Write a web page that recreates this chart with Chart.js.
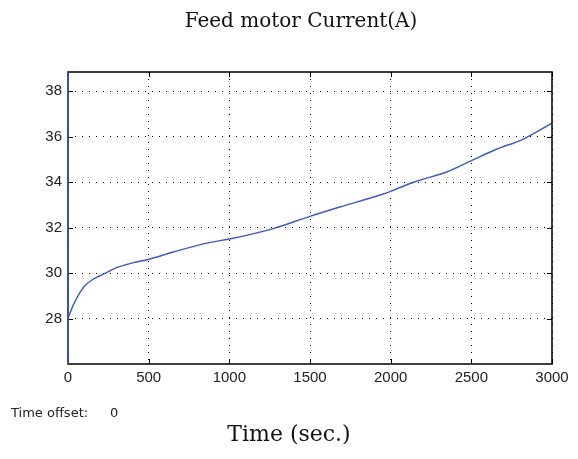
<!DOCTYPE html>
<html>
<head>
<meta charset="utf-8">
<script src="https://cdn.jsdelivr.net/npm/chart.js@4"></script>
<style>
  html, body { margin: 0; padding: 0; background: #fff; }
  #wrap { position: relative; width: 578px; height: 459px; }
  .lbl { position: absolute; white-space: nowrap; color: #111; }
  #title { left: 12px; width: 578px; top: 8px; text-align: center; font: 20px "DejaVu Serif", serif; }
  #xtitle { left: 0; width: 578px; top: 421px; text-align: center; font: 22px "DejaVu Serif", serif; }
  #offset { left: 11px; top: 405px; font: 13px "DejaVu Sans", sans-serif; color: #222; }
  #offset span { position: absolute; left: 99px; }
</style>
</head>
<body>
<div id="wrap">
  <canvas id="chart" width="578" height="459"></canvas>
  <div class="lbl" id="title">Feed motor Current(A)</div>
  <div class="lbl" id="offset">Time offset:<span>0</span></div>
  <div class="lbl" id="xtitle">Time (sec.)</div>
</div>
<script>
// values
const timeSec = [0, 31, 62, 104, 156, 218, 301, 405, 496, 653, 860, 1000, 1272, 1500, 1685, 1944, 2000, 2150, 2350, 2500, 2655, 2820, 3000]
const currentA = [28.0, 28.57, 29.0, 29.44, 29.73, 29.95, 30.24, 30.46, 30.6, 30.93, 31.32, 31.5, 31.96, 32.5, 32.91, 33.46, 33.6, 34.02, 34.46, 34.95, 35.45, 35.89, 36.6]
const xTicks = [0, 500, 1000, 1500, 2000, 2500, 3000]
const yTicks = [28, 30, 32, 34, 36, 38]

// box around the plot with inward tick marks, like the scope window
const boxPlugin = {
  id: "box",
  afterDraw(chart) {
    const { ctx, chartArea: a, scales } = chart
    ctx.save()
    ctx.strokeStyle = "#000"
    ctx.lineWidth = 1
    ctx.beginPath()
    xTicks.forEach(v => {
      const px = Math.round(scales.x.getPixelForValue(v)) + 0.5
      ctx.moveTo(px, a.bottom); ctx.lineTo(px, a.bottom - 5)
      ctx.moveTo(px, a.top); ctx.lineTo(px, a.top + 5)
    })
    yTicks.forEach(v => {
      const py = Math.round(scales.y.getPixelForValue(v)) + 0.5
      ctx.moveTo(a.left, py); ctx.lineTo(a.left + 5, py)
      ctx.moveTo(a.right, py); ctx.lineTo(a.right - 5, py)
    })
    ctx.stroke()
    ctx.lineWidth = 1.5
    ctx.strokeRect(a.left, a.top, a.right - a.left, a.bottom - a.top)
    // left edge shows up blue in the original
    ctx.strokeStyle = "#3a5bbf"
    ctx.beginPath()
    ctx.moveTo(a.left, a.top); ctx.lineTo(a.left, a.bottom)
    ctx.stroke()
    ctx.restore()
  }
}

const tickFont = { family: "'Liberation Sans', Arial, sans-serif", size: 15 }

new Chart(document.getElementById("chart"), {
  type: "line",
  data: {
    datasets: [{
      data: timeSec.map((t, i) => ({ x: t, y: currentA[i] })),
      borderColor: "#3a5bbf",
      borderWidth: 1.4,
      pointRadius: 0,
      cubicInterpolationMode: "monotone",
      fill: false
    }]
  },
  options: {
    responsive: false,
    animation: false,
    layout: { padding: { left: 0, top: 72, right: 26, bottom: 65 } },
    plugins: { legend: { display: false }, tooltip: { enabled: false } },
    scales: {
      x: {
        type: "linear",
        min: 0,
        max: 3000,
        afterBuildTicks: s => { s.ticks = xTicks.map(v => ({ value: v })) },
        afterFit: s => { s.height = 30 },
        border: { display: false, dash: [1, 6] },
        grid: { color: "#000", lineWidth: 1, drawTicks: false },
        ticks: { color: "#222", font: tickFont, padding: 5, maxRotation: 0, callback: v => String(v) }
      },
      y: {
        type: "linear",
        min: 26,
        max: 38.85,
        afterBuildTicks: s => { s.ticks = yTicks.map(v => ({ value: v })) },
        afterFit: s => { s.width = 68 },
        border: { display: false, dash: [1, 6] },
        grid: { color: "#000", lineWidth: 1, drawTicks: false },
        ticks: { color: "#222", font: tickFont, padding: 6, callback: v => String(v) }
      }
    }
  },
  plugins: [boxPlugin]
})
</script>
</body>
</html>
